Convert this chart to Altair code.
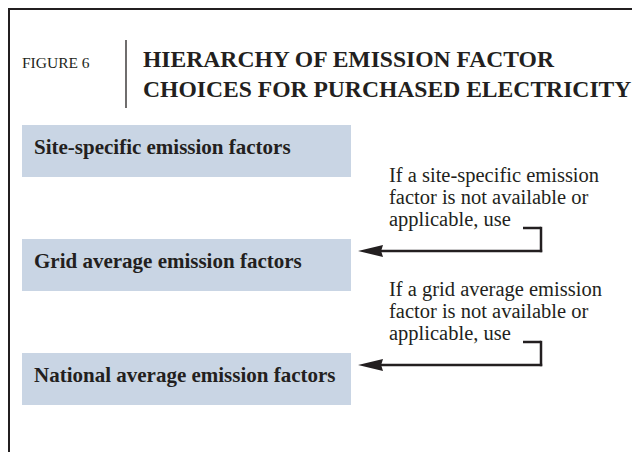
import altair as alt
import pandas as pd

# ---- content ----
figure_label = "FIGURE 6"
title_lines = ["HIERARCHY OF EMISSION FACTOR", "CHOICES FOR PURCHASED ELECTRICITY"]
levels = [
    "Site-specific emission factors",
    "Grid average emission factors",
    "National average emission factors",
]
conditions = [
    "If a site-specific emission\nfactor is not available or\napplicable, use",
    "If a grid average emission\nfactor is not available or\napplicable, use",
]

# ---- layout (page pixel coordinates) ----
W, H = 624, 444
X0, Y0 = 8, 8
SERIF = "Liberation Serif"
INK = "#231f20"
BOX_FILL = "#c9d5e4"

box_left, box_right = 22, 351
box_top0, box_h, step = 125, 52, 114
text_dx, text_dy = 34, 29
note_x, note_y0 = 389, 182
arrow_tip, arrow_vx, stub_x = 358, 541, 523
arrow_y0, stub_y0 = 251, 228

boxes = pd.DataFrame({
    "label": levels,
    "x": [box_left] * len(levels),
    "x2": [box_right] * len(levels),
    "y": [box_top0 + i * step for i in range(len(levels))],
    "y2": [box_top0 + i * step + box_h for i in range(len(levels))],
})
boxes["tx"] = boxes["x"] + (text_dx - box_left)
boxes["ty"] = boxes["y"] + text_dy

notes = pd.DataFrame({
    "label": conditions,
    "x": [note_x] * len(conditions),
    "y": [note_y0 + i * step for i in range(len(conditions))],
})

segs = []
heads = []
for i in range(len(conditions)):
    ay = arrow_y0 + i * step
    sy = stub_y0 + i * step
    segs.append({"x": stub_x, "x2": arrow_vx, "y": sy, "y2": sy})
    segs.append({"x": arrow_vx, "x2": arrow_vx, "y": sy - 1.2, "y2": ay + 1.2})
    segs.append({"x": arrow_vx + 1.2, "x2": arrow_tip + 18, "y": ay, "y2": ay})
    heads.append({"x": arrow_tip + 12.5, "y": ay})
segs = pd.DataFrame(segs)
heads = pd.DataFrame(heads)

frame = pd.DataFrame([
    {"x": 9, "x2": X0 + W, "y": 9, "y2": 9},
    {"x": 9, "x2": 9, "y": 8, "y2": Y0 + H},
])
divider = pd.DataFrame([{"x": 126, "x2": 126, "y": 40, "y2": 108}])

hdr = pd.DataFrame(
    [{"label": figure_label, "x": 22, "y": 68, "kind": "fig"}]
    + [{"label": t, "x": 143, "y": 67 + 30 * i, "kind": "title"} for i, t in enumerate(title_lines)]
)

xs = alt.Scale(domain=[X0, X0 + W], nice=False, zero=False)
ys = alt.Scale(domain=[Y0, Y0 + H], nice=False, zero=False, reverse=True)

def X(f="x"):
    return alt.X(f + ":Q", scale=xs, axis=None)

def Y(f="y"):
    return alt.Y(f + ":Q", scale=ys, axis=None)

frame_l = alt.Chart(frame).mark_rule(color=INK, strokeWidth=2).encode(
    x=X(), x2="x2:Q", y=Y(), y2="y2:Q")
div_l = alt.Chart(divider).mark_rule(color=INK, strokeWidth=1.3).encode(
    x=X(), x2="x2:Q", y=Y(), y2="y2:Q")

fig_l = alt.Chart(hdr[hdr.kind == "fig"]).mark_text(
    font=SERIF, fontSize=15.5, align="left", baseline="alphabetic", color=INK
).encode(x=X(), y=Y(), text="label:N")
title_l = alt.Chart(hdr[hdr.kind == "title"]).mark_text(
    font=SERIF, fontSize=23.6, fontWeight="bold", align="left", baseline="alphabetic", color=INK
).encode(x=X(), y=Y(), text="label:N")

box_l = alt.Chart(boxes).mark_rect(color=BOX_FILL).encode(
    x=X(), x2="x2:Q", y=Y(), y2="y2:Q")
box_t = alt.Chart(boxes).mark_text(
    font=SERIF, fontSize=21, fontWeight="bold", align="left", baseline="alphabetic", color=INK
).encode(x=X("tx"), y=Y("ty"), text="label:N")

note_t = alt.Chart(notes).mark_text(
    font=SERIF, fontSize=20.5, align="left", baseline="alphabetic", color=INK,
    lineBreak="\n", lineHeight=22
).encode(x=X(), y=Y(), text="label:N")

seg_l = alt.Chart(segs).mark_rule(color=INK, strokeWidth=2.5).encode(
    x=X(), x2="x2:Q", y=Y(), y2="y2:Q")
head_l = alt.Chart(heads).mark_point(
    shape="M -1 0 L 1 -0.48 L 0.85 0 L 1 0.48 Z", size=625, filled=True,
    color=INK, opacity=1, strokeWidth=0
).encode(x=X(), y=Y())

chart = alt.layer(
    frame_l, div_l, fig_l, title_l, box_l, box_t, note_t, seg_l, head_l
).properties(
    width=W, height=H, padding=0, autosize=alt.AutoSizeParams(type="none")
).configure_view(strokeWidth=0)

chart.save("out.html", embed_options={"renderer": "svg", "actions": False})
